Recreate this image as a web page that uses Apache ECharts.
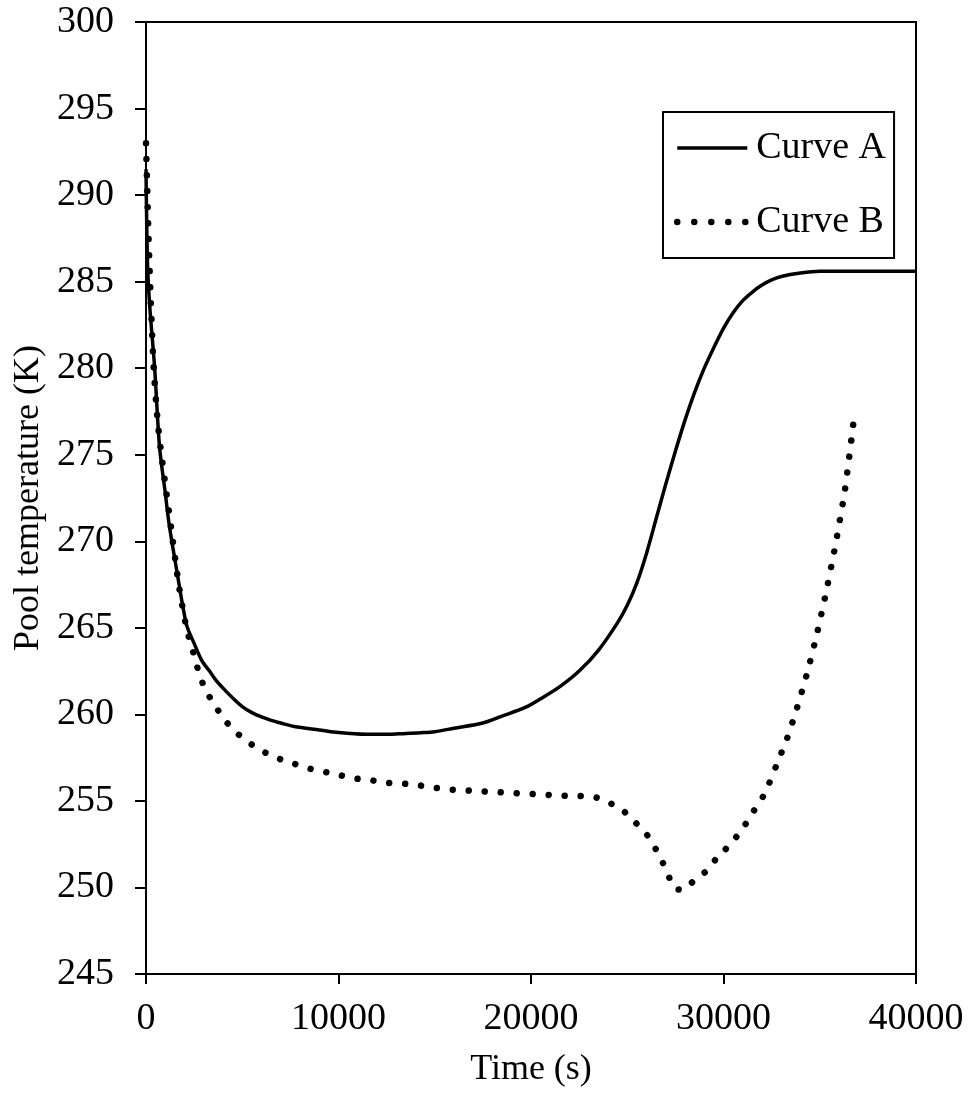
<!DOCTYPE html>
<html>
<head>
<meta charset="utf-8">
<script src="https://cdn.jsdelivr.net/npm/echarts@6/dist/echarts.min.js"></script>
<style>
html,body{margin:0;padding:0;background:#fff;}
#chart{width:974px;height:1093px;}
</style>
</head>
<body>
<div id="chart"></div>
<script>
// Curve A (solid)
var timeA = [0,80,200,450,700,1000,1200,1600,2100,2500,2900,3300,3650,4100,4640,5000,5500,6000,6500,7000,7700,9000,10000,11400,12500,13500,14300,15000,16000,17500,18500,19700,20500,21500,22500,23500,24500,25000,25500,26000,26500,27000,27500,28000,28500,29000,29500,30000,30500,31000,31500,32000,32500,33000,34000,35000,40000];
var tempA = [291.5,286,283.5,280,275.5,272.8,271,268.3,265.2,264.1,263.1,262.5,261.95,261.4,260.8,260.45,260.1,259.85,259.65,259.5,259.3,259.1,258.95,258.85,258.85,258.9,258.94,259.0,259.2,259.5,259.9,260.4,260.9,261.6,262.5,263.7,265.3,266.3,267.6,269.3,271.3,273.3,275.2,277.0,278.6,280.0,281.2,282.3,283.2,283.9,284.4,284.8,285.1,285.3,285.5,285.6,285.6];
// Curve B (dotted)
var timeB = [0,60,120,180,260,400,600,800,1000,1300,1700,2100,2500,2800,3150,3590,4070,4640,5300,6000,6760,7550,8360,9190,10020,10830,11660,12510,13330,14180,15030,15860,16690,17520,18350,19180,20020,20870,21700,22540,23380,24050,24720,25330,25920,26340,26730,27090,27400,27840,28480,29060,29580,30100,30620,31110,31560,31980,32330,32800,33300,33800,34300,34800,35300,35800,36300,36800];
var tempB = [293,290.5,288,286,283.5,280,277,275,273.3,270.8,267.5,265,263.4,262.2,261.3,260.5,259.7,259.0,258.4,257.9,257.5,257.2,256.9,256.7,256.5,256.3,256.2,256.05,256.0,255.9,255.75,255.65,255.6,255.55,255.5,255.45,255.4,255.35,255.3,255.28,255.2,254.9,254.5,253.85,253.2,252.5,251.7,250.85,250.0,249.85,250.4,250.9,251.6,252.2,252.85,253.6,254.4,255.1,255.9,257.2,258.6,260.3,262.2,264.4,266.9,269.7,272.9,277.3];
var seriesNames = ['Curve A','Curve B'];
var xTicks = {min:0, max:40000, interval:10000};
var yTicks = {min:245, max:300, interval:5};

function pairs(t, v){ var out=[]; for(var i=0;i<t.length;i++){ out.push([t[i], v[i]]); } return out; }

var FONT = "'Liberation Serif','Times New Roman',serif";
var chart = echarts.init(document.getElementById('chart'), null, {renderer:'canvas'});
chart.setOption({
  animation:false,
  backgroundColor:'#fff',
  grid:{left:146, right:58, top:22, bottom:119, show:true, borderColor:'#000', borderWidth:2, backgroundColor:'transparent'},
  xAxis:{
    type:'value', min:xTicks.min, max:xTicks.max, interval:xTicks.interval,
    name:'Time (s)', nameLocation:'middle', nameGap:78,
    nameTextStyle:{fontFamily:FONT, fontSize:36, color:'#000'},
    axisLine:{onZero:false, lineStyle:{color:'#000', width:2}},
    axisTick:{inside:false, length:10, lineStyle:{color:'#000', width:2}},
    axisLabel:{fontFamily:FONT, fontSize:38, color:'#000', margin:26,
      formatter:function(v){ return String(v); }},
    splitLine:{show:false}
  },
  yAxis:{
    type:'value', min:yTicks.min, max:yTicks.max, interval:yTicks.interval,
    name:'Pool temperature (K)', nameLocation:'middle', nameGap:97, nameRotate:90,
    nameTextStyle:{fontFamily:FONT, fontSize:36, color:'#000'},
    axisLine:{onZero:false, lineStyle:{color:'#000', width:2}},
    axisTick:{inside:false, length:11, lineStyle:{color:'#000', width:2}},
    axisLabel:{fontFamily:FONT, fontSize:38, color:'#000', margin:32},
    splitLine:{show:false}
  },
  legend:{
    orient:'vertical', left:663, top:112,
    padding:[16,8,16,11], itemGap:34, itemWidth:70, itemHeight:14,
    borderColor:'#000', borderWidth:2, backgroundColor:'#fff',
    itemStyle:{opacity:0},
    textStyle:{fontFamily:FONT, fontSize:38, color:'#000', lineHeight:40, padding:[0,0,0,4]},
    data:[
      {name:seriesNames[0], lineStyle:{color:'#000', width:3.5, type:'solid'}},
      {name:seriesNames[1], lineStyle:{color:'#000', width:6.5, type:[0.01,17], cap:'round'}}
    ]
  },
  series:[
    {name:seriesNames[0], type:'line', data:pairs(timeA,tempA), symbol:'none', smooth:0.3,
     lineStyle:{color:'#000', width:3.5}, itemStyle:{color:'#000'}},
    {name:seriesNames[1], type:'line', data:pairs(timeB,tempB), symbol:'none', smooth:0.2,
     lineStyle:{color:'#000', width:6.5, type:[0.01,16], cap:'round'}, itemStyle:{color:'#000'}}
  ]
});
</script>
</body>
</html>
